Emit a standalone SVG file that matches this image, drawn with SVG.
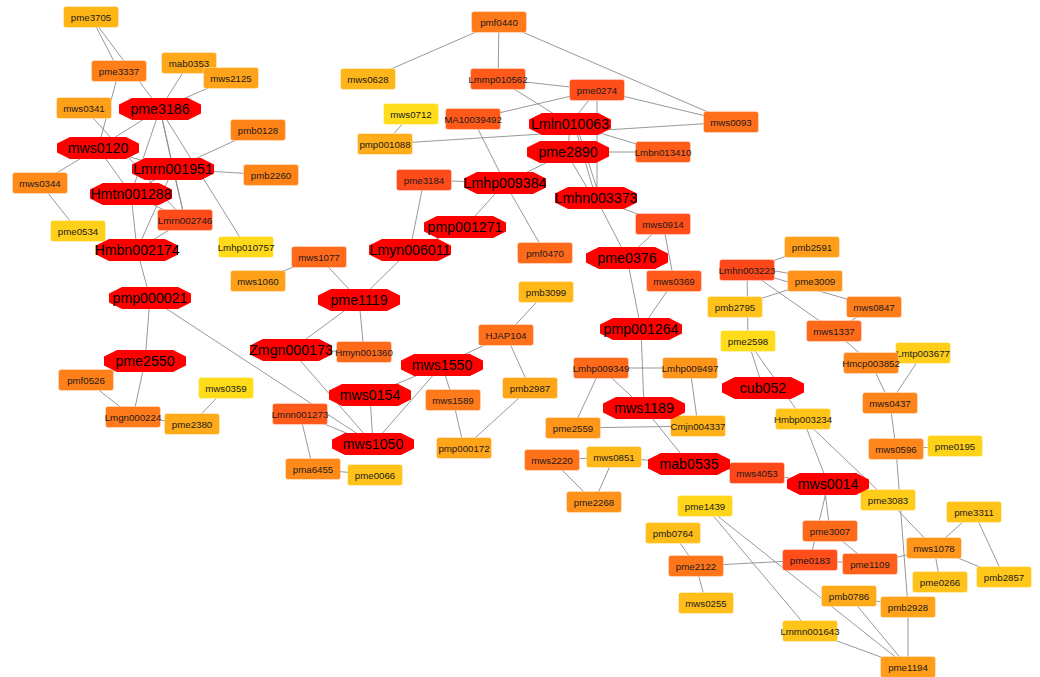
<svg xmlns="http://www.w3.org/2000/svg" xmlns:xlink="http://www.w3.org/1999/xlink" width="1040" height="677" viewBox="0 0 1040 677">
<style>
.e line{stroke:#8c8c8c;stroke-width:0.9}
.o{fill:#ff0000}
.r{stroke:#ffffff;stroke-opacity:0.35;stroke-width:1}
.ot{font-family:"Liberation Sans",Arial,sans-serif;font-size:14.2px;fill:#000;text-anchor:middle;dominant-baseline:central}
.rt{font-family:"Liberation Sans",Arial,sans-serif;font-size:9.7px;fill:#1a1a1a;text-anchor:middle;dominant-baseline:central}
</style>
<defs>
<polygon id="oct" points="-28,-11 28,-11 41,-4.5 41,4.5 28,11 -28,11 -41,4.5 -41,-4.5"/>
<rect id="box" x="-27.5" y="-10.5" width="55" height="21" rx="2.5"/>
</defs>
<rect width="1040" height="677" fill="#ffffff"/>
<g id="edges" class="e">
<line x1="91" y1="17" x2="119" y2="71"/>
<line x1="91" y1="17" x2="160" y2="109"/>
<line x1="119" y1="71" x2="98" y2="148"/>
<line x1="189" y1="63" x2="160" y2="109"/>
<line x1="231" y1="78" x2="160" y2="109"/>
<line x1="160" y1="109" x2="98" y2="148"/>
<line x1="84" y1="108" x2="185" y2="220"/>
<line x1="98" y1="148" x2="131" y2="194"/>
<line x1="98" y1="148" x2="173" y2="169"/>
<line x1="98" y1="148" x2="40" y2="183"/>
<line x1="40" y1="183" x2="78" y2="231"/>
<line x1="160" y1="109" x2="131" y2="194"/>
<line x1="160" y1="109" x2="173" y2="169"/>
<line x1="160" y1="109" x2="185" y2="220"/>
<line x1="160" y1="109" x2="246" y2="247"/>
<line x1="173" y1="169" x2="258" y2="130"/>
<line x1="173" y1="169" x2="271" y2="175"/>
<line x1="173" y1="169" x2="131" y2="194"/>
<line x1="173" y1="169" x2="137" y2="250"/>
<line x1="173" y1="169" x2="185" y2="220"/>
<line x1="131" y1="194" x2="185" y2="220"/>
<line x1="131" y1="194" x2="137" y2="250"/>
<line x1="185" y1="220" x2="137" y2="250"/>
<line x1="137" y1="250" x2="150" y2="298"/>
<line x1="150" y1="298" x2="145" y2="361"/>
<line x1="150" y1="298" x2="373" y2="444"/>
<line x1="145" y1="361" x2="86" y2="380"/>
<line x1="145" y1="361" x2="133" y2="417"/>
<line x1="86" y1="380" x2="133" y2="417"/>
<line x1="133" y1="417" x2="192" y2="424"/>
<line x1="192" y1="424" x2="226" y2="388"/>
<line x1="319" y1="257" x2="258" y2="281"/>
<line x1="319" y1="257" x2="359" y2="300"/>
<line x1="359" y1="300" x2="410" y2="250"/>
<line x1="359" y1="300" x2="291" y2="350"/>
<line x1="359" y1="300" x2="364" y2="352"/>
<line x1="291" y1="350" x2="364" y2="352"/>
<line x1="291" y1="350" x2="373" y2="444"/>
<line x1="410" y1="250" x2="424" y2="180"/>
<line x1="410" y1="250" x2="465" y2="227"/>
<line x1="465" y1="227" x2="505" y2="183"/>
<line x1="424" y1="180" x2="505" y2="183"/>
<line x1="505" y1="183" x2="473" y2="119"/>
<line x1="505" y1="183" x2="568" y2="152"/>
<line x1="505" y1="183" x2="545" y2="253"/>
<line x1="442" y1="365" x2="506" y2="335"/>
<line x1="442" y1="365" x2="370" y2="395"/>
<line x1="442" y1="365" x2="373" y2="444"/>
<line x1="442" y1="365" x2="453" y2="400"/>
<line x1="370" y1="395" x2="373" y2="444"/>
<line x1="300" y1="414" x2="373" y2="444"/>
<line x1="300" y1="414" x2="313" y2="469"/>
<line x1="313" y1="469" x2="375" y2="475"/>
<line x1="453" y1="400" x2="464" y2="448"/>
<line x1="464" y1="448" x2="530" y2="388"/>
<line x1="506" y1="335" x2="546" y2="292"/>
<line x1="506" y1="335" x2="530" y2="388"/>
<line x1="499" y1="22" x2="368" y2="79"/>
<line x1="499" y1="22" x2="498" y2="79"/>
<line x1="499" y1="22" x2="731" y2="122"/>
<line x1="498" y1="79" x2="597" y2="90"/>
<line x1="498" y1="79" x2="570" y2="124"/>
<line x1="411" y1="114" x2="385" y2="144"/>
<line x1="473" y1="119" x2="597" y2="90"/>
<line x1="385" y1="144" x2="731" y2="122"/>
<line x1="597" y1="90" x2="570" y2="124"/>
<line x1="597" y1="90" x2="597" y2="198"/>
<line x1="597" y1="90" x2="731" y2="122"/>
<line x1="570" y1="124" x2="663" y2="152"/>
<line x1="570" y1="124" x2="568" y2="152"/>
<line x1="574" y1="124" x2="596" y2="198"/>
<line x1="568" y1="152" x2="663" y2="152"/>
<line x1="566" y1="152" x2="593" y2="198"/>
<line x1="578" y1="130" x2="600" y2="198"/>
<line x1="596" y1="198" x2="663" y2="224"/>
<line x1="596" y1="198" x2="627" y2="258"/>
<line x1="663" y1="224" x2="627" y2="258"/>
<line x1="663" y1="224" x2="674" y2="281"/>
<line x1="627" y1="258" x2="641" y2="329"/>
<line x1="674" y1="281" x2="641" y2="329"/>
<line x1="641" y1="329" x2="644" y2="408"/>
<line x1="601" y1="368" x2="690" y2="368"/>
<line x1="601" y1="368" x2="573" y2="428"/>
<line x1="601" y1="368" x2="644" y2="408"/>
<line x1="690" y1="368" x2="698" y2="426"/>
<line x1="573" y1="428" x2="698" y2="426"/>
<line x1="644" y1="408" x2="689" y2="464"/>
<line x1="552" y1="460" x2="614" y2="457"/>
<line x1="552" y1="460" x2="594" y2="502"/>
<line x1="614" y1="457" x2="594" y2="502"/>
<line x1="614" y1="457" x2="689" y2="464"/>
<line x1="689" y1="464" x2="757" y2="473"/>
<line x1="757" y1="473" x2="828" y2="484"/>
<line x1="747" y1="270" x2="812" y2="247"/>
<line x1="747" y1="266" x2="815" y2="278"/>
<line x1="747" y1="270" x2="874" y2="307"/>
<line x1="747" y1="270" x2="748" y2="341"/>
<line x1="735" y1="307" x2="815" y2="281"/>
<line x1="747" y1="270" x2="834" y2="331"/>
<line x1="834" y1="331" x2="874" y2="307"/>
<line x1="834" y1="331" x2="871" y2="363"/>
<line x1="871" y1="363" x2="890" y2="403"/>
<line x1="923" y1="353" x2="890" y2="403"/>
<line x1="890" y1="403" x2="896" y2="449"/>
<line x1="896" y1="449" x2="955" y2="446"/>
<line x1="896" y1="449" x2="908" y2="607"/>
<line x1="748" y1="341" x2="763" y2="388"/>
<line x1="748" y1="341" x2="803" y2="419"/>
<line x1="803" y1="419" x2="828" y2="484"/>
<line x1="803" y1="419" x2="888" y2="500"/>
<line x1="824" y1="484" x2="830" y2="531"/>
<line x1="828" y1="484" x2="810" y2="560"/>
<line x1="830" y1="531" x2="870" y2="564"/>
<line x1="810" y1="560" x2="870" y2="564"/>
<line x1="810" y1="560" x2="696" y2="566"/>
<line x1="870" y1="564" x2="934" y2="548"/>
<line x1="888" y1="500" x2="934" y2="548"/>
<line x1="934" y1="548" x2="974" y2="512"/>
<line x1="934" y1="548" x2="1004" y2="577"/>
<line x1="934" y1="548" x2="940" y2="582"/>
<line x1="974" y1="512" x2="1004" y2="577"/>
<line x1="849" y1="596" x2="908" y2="607"/>
<line x1="849" y1="596" x2="908" y2="667"/>
<line x1="908" y1="607" x2="908" y2="667"/>
<line x1="705" y1="506" x2="908" y2="667"/>
<line x1="705" y1="506" x2="810" y2="631"/>
<line x1="810" y1="631" x2="908" y2="667"/>
<line x1="673" y1="533" x2="696" y2="566"/>
<line x1="696" y1="566" x2="706" y2="603"/>
</g>
<g id="n_pme3705"><use href="#box" x="91" y="17" class="r" fill="#ffb615"/><text class="rt" x="91" y="17">pme3705</text></g>
<g id="n_pme3337"><use href="#box" x="119" y="71" class="r" fill="#ff8018"/><text class="rt" x="119" y="71">pme3337</text></g>
<g id="n_mab0353"><use href="#box" x="189" y="63" class="r" fill="#ffa81a"/><text class="rt" x="189" y="63">mab0353</text></g>
<g id="n_mws2125"><use href="#box" x="231" y="78" class="r" fill="#ffa41a"/><text class="rt" x="231" y="78">mws2125</text></g>
<g id="n_mws0341"><use href="#box" x="84" y="108" class="r" fill="#ffa01a"/><text class="rt" x="84" y="108">mws0341</text></g>
<g id="n_pmb0128"><use href="#box" x="258" y="130" class="r" fill="#ff8418"/><text class="rt" x="258" y="130">pmb0128</text></g>
<g id="n_pmb2260"><use href="#box" x="271" y="175" class="r" fill="#ff8418"/><text class="rt" x="271" y="175">pmb2260</text></g>
<g id="n_mws0344"><use href="#box" x="40" y="183" class="r" fill="#ff8a1a"/><text class="rt" x="40" y="183">mws0344</text></g>
<g id="n_Lmrn002746"><use href="#box" x="185" y="220" class="r" fill="#ff4a1a"/><text class="rt" x="185" y="220">Lmrn002746</text></g>
<g id="n_pme0534"><use href="#box" x="78" y="231" class="r" fill="#ffd01a"/><text class="rt" x="78" y="231">pme0534</text></g>
<g id="n_Lmhp010757"><use href="#box" x="246" y="247" class="r" fill="#ffd91a"/><text class="rt" x="246" y="247">Lmhp010757</text></g>
<g id="n_mws1077"><use href="#box" x="319" y="257" class="r" fill="#ff6a1a"/><text class="rt" x="319" y="257">mws1077</text></g>
<g id="n_mws1060"><use href="#box" x="258" y="281" class="r" fill="#ffa01a"/><text class="rt" x="258" y="281">mws1060</text></g>
<g id="n_pmf0526"><use href="#box" x="86" y="380" class="r" fill="#ff8018"/><text class="rt" x="86" y="380">pmf0526</text></g>
<g id="n_mws0359"><use href="#box" x="226" y="388" class="r" fill="#ffdc1a"/><text class="rt" x="226" y="388">mws0359</text></g>
<g id="n_Lmgn000224"><use href="#box" x="133" y="417" class="r" fill="#ff7a1a"/><text class="rt" x="133" y="417">Lmgn000224</text></g>
<g id="n_pme2380"><use href="#box" x="192" y="424" class="r" fill="#ffaa1a"/><text class="rt" x="192" y="424">pme2380</text></g>
<g id="n_Lmnn001273"><use href="#box" x="300" y="414" class="r" fill="#ff5a1a"/><text class="rt" x="300" y="414">Lmnn001273</text></g>
<g id="n_pmf0440"><use href="#box" x="499" y="22" class="r" fill="#ff7a1a"/><text class="rt" x="499" y="22">pmf0440</text></g>
<g id="n_mws0628"><use href="#box" x="368" y="79" class="r" fill="#ffb61a"/><text class="rt" x="368" y="79">mws0628</text></g>
<g id="n_Lmmp010562"><use href="#box" x="498" y="79" class="r" fill="#ff5a1a"/><text class="rt" x="498" y="79">Lmmp010562</text></g>
<g id="n_pme0274"><use href="#box" x="597" y="90" class="r" fill="#ff4e1a"/><text class="rt" x="597" y="90">pme0274</text></g>
<g id="n_mws0712"><use href="#box" x="411" y="114" class="r" fill="#ffdd1a"/><text class="rt" x="411" y="114">mws0712</text></g>
<g id="n_MA10039492"><use href="#box" x="473" y="119" class="r" fill="#ff5a1a"/><text class="rt" x="473" y="119">MA10039492</text></g>
<g id="n_pmp001088"><use href="#box" x="385" y="144" class="r" fill="#ffad1a"/><text class="rt" x="385" y="144">pmp001088</text></g>
<g id="n_Lmbn013410"><use href="#box" x="663" y="152" class="r" fill="#ff5e1a"/><text class="rt" x="663" y="152">Lmbn013410</text></g>
<g id="n_mws0093"><use href="#box" x="731" y="122" class="r" fill="#ff6e1a"/><text class="rt" x="731" y="122">mws0093</text></g>
<g id="n_pme3184"><use href="#box" x="424" y="180" class="r" fill="#ff4a1a"/><text class="rt" x="424" y="180">pme3184</text></g>
<g id="n_mws0914"><use href="#box" x="663" y="224" class="r" fill="#ff4e1a"/><text class="rt" x="663" y="224">mws0914</text></g>
<g id="n_pmf0470"><use href="#box" x="545" y="253" class="r" fill="#ff6a1a"/><text class="rt" x="545" y="253">pmf0470</text></g>
<g id="n_mws0369"><use href="#box" x="674" y="281" class="r" fill="#ff5a1a"/><text class="rt" x="674" y="281">mws0369</text></g>
<g id="n_pmb3099"><use href="#box" x="546" y="292" class="r" fill="#ffb81a"/><text class="rt" x="546" y="292">pmb3099</text></g>
<g id="n_Hmyn001360"><use href="#box" x="364" y="352" class="r" fill="#ff6a1a"/><text class="rt" x="364" y="352">Hmyn001360</text></g>
<g id="n_HJAP104"><use href="#box" x="506" y="335" class="r" fill="#ff701a"/><text class="rt" x="506" y="335">HJAP104</text></g>
<g id="n_Lmhp009349"><use href="#box" x="601" y="368" class="r" fill="#ff6a1a"/><text class="rt" x="601" y="368">Lmhp009349</text></g>
<g id="n_Lmhp009497"><use href="#box" x="690" y="368" class="r" fill="#ff961a"/><text class="rt" x="690" y="368">Lmhp009497</text></g>
<g id="n_mws1589"><use href="#box" x="453" y="400" class="r" fill="#ff7a1a"/><text class="rt" x="453" y="400">mws1589</text></g>
<g id="n_pmb2987"><use href="#box" x="530" y="388" class="r" fill="#ffa51a"/><text class="rt" x="530" y="388">pmb2987</text></g>
<g id="n_pmp000172"><use href="#box" x="464" y="448" class="r" fill="#ffa51a"/><text class="rt" x="464" y="448">pmp000172</text></g>
<g id="n_pma6455"><use href="#box" x="313" y="469" class="r" fill="#ff8a1a"/><text class="rt" x="313" y="469">pma6455</text></g>
<g id="n_pme0066"><use href="#box" x="375" y="475" class="r" fill="#ffc21a"/><text class="rt" x="375" y="475">pme0066</text></g>
<g id="n_pme2559"><use href="#box" x="573" y="428" class="r" fill="#ff961a"/><text class="rt" x="573" y="428">pme2559</text></g>
<g id="n_Cmjn004337"><use href="#box" x="698" y="426" class="r" fill="#ffb11a"/><text class="rt" x="698" y="426">Cmjn004337</text></g>
<g id="n_mws2220"><use href="#box" x="552" y="460" class="r" fill="#ff721a"/><text class="rt" x="552" y="460">mws2220</text></g>
<g id="n_mws0851"><use href="#box" x="614" y="457" class="r" fill="#ffb81a"/><text class="rt" x="614" y="457">mws0851</text></g>
<g id="n_mws4053"><use href="#box" x="757" y="473" class="r" fill="#ff481a"/><text class="rt" x="757" y="473">mws4053</text></g>
<g id="n_pme2268"><use href="#box" x="594" y="502" class="r" fill="#ff921a"/><text class="rt" x="594" y="502">pme2268</text></g>
<g id="n_pme1439"><use href="#box" x="705" y="506" class="r" fill="#ffd51a"/><text class="rt" x="705" y="506">pme1439</text></g>
<g id="n_pmb0764"><use href="#box" x="673" y="533" class="r" fill="#ffbe1a"/><text class="rt" x="673" y="533">pmb0764</text></g>
<g id="n_pme2122"><use href="#box" x="696" y="566" class="r" fill="#ff761a"/><text class="rt" x="696" y="566">pme2122</text></g>
<g id="n_mws0255"><use href="#box" x="706" y="603" class="r" fill="#ffbe1a"/><text class="rt" x="706" y="603">mws0255</text></g>
<g id="n_pme3083"><use href="#box" x="888" y="500" class="r" fill="#ffcc1a"/><text class="rt" x="888" y="500">pme3083</text></g>
<g id="n_pme3311"><use href="#box" x="974" y="512" class="r" fill="#ffc41a"/><text class="rt" x="974" y="512">pme3311</text></g>
<g id="n_pme3007"><use href="#box" x="830" y="531" class="r" fill="#ff6a1a"/><text class="rt" x="830" y="531">pme3007</text></g>
<g id="n_mws1078"><use href="#box" x="934" y="548" class="r" fill="#ff961a"/><text class="rt" x="934" y="548">mws1078</text></g>
<g id="n_pme0183"><use href="#box" x="810" y="560" class="r" fill="#ff4e1a"/><text class="rt" x="810" y="560">pme0183</text></g>
<g id="n_pme1109"><use href="#box" x="870" y="564" class="r" fill="#ff601a"/><text class="rt" x="870" y="564">pme1109</text></g>
<g id="n_pmb2857"><use href="#box" x="1004" y="577" class="r" fill="#ffc81a"/><text class="rt" x="1004" y="577">pmb2857</text></g>
<g id="n_pme0266"><use href="#box" x="940" y="582" class="r" fill="#ffc21a"/><text class="rt" x="940" y="582">pme0266</text></g>
<g id="n_pmb0786"><use href="#box" x="849" y="596" class="r" fill="#ffaa1a"/><text class="rt" x="849" y="596">pmb0786</text></g>
<g id="n_pmb2928"><use href="#box" x="908" y="607" class="r" fill="#ffa31a"/><text class="rt" x="908" y="607">pmb2928</text></g>
<g id="n_Lmmn001643"><use href="#box" x="810" y="631" class="r" fill="#ffc41a"/><text class="rt" x="810" y="631">Lmmn001643</text></g>
<g id="n_pme1194"><use href="#box" x="908" y="667" class="r" fill="#ff9e1a"/><text class="rt" x="908" y="667">pme1194</text></g>
<g id="n_pmb2591"><use href="#box" x="812" y="247" class="r" fill="#ff9e1a"/><text class="rt" x="812" y="247">pmb2591</text></g>
<g id="n_Lmhn003223"><use href="#box" x="747" y="270" class="r" fill="#ff481a"/><text class="rt" x="747" y="270">Lmhn003223</text></g>
<g id="n_pme3009"><use href="#box" x="815" y="281" class="r" fill="#ff921a"/><text class="rt" x="815" y="281">pme3009</text></g>
<g id="n_pmb2795"><use href="#box" x="735" y="307" class="r" fill="#ffc21a"/><text class="rt" x="735" y="307">pmb2795</text></g>
<g id="n_mws0847"><use href="#box" x="874" y="307" class="r" fill="#ff7e1a"/><text class="rt" x="874" y="307">mws0847</text></g>
<g id="n_mws1337"><use href="#box" x="834" y="331" class="r" fill="#ff6a1a"/><text class="rt" x="834" y="331">mws1337</text></g>
<g id="n_pme2598"><use href="#box" x="748" y="341" class="r" fill="#ffdc1a"/><text class="rt" x="748" y="341">pme2598</text></g>
<g id="n_Lmtp003677"><use href="#box" x="923" y="353" class="r" fill="#ffce1a"/><text class="rt" x="923" y="353">Lmtp003677</text></g>
<g id="n_Hmcp003852"><use href="#box" x="871" y="363" class="r" fill="#ff861a"/><text class="rt" x="871" y="363">Hmcp003852</text></g>
<g id="n_mws0437"><use href="#box" x="890" y="403" class="r" fill="#ff841a"/><text class="rt" x="890" y="403">mws0437</text></g>
<g id="n_Hmbp003234"><use href="#box" x="803" y="419" class="r" fill="#ffc41a"/><text class="rt" x="803" y="419">Hmbp003234</text></g>
<g id="n_mws0596"><use href="#box" x="896" y="449" class="r" fill="#ff861a"/><text class="rt" x="896" y="449">mws0596</text></g>
<g id="n_pme0195"><use href="#box" x="955" y="446" class="r" fill="#ffd21a"/><text class="rt" x="955" y="446">pme0195</text></g>
<g id="n_pme3186"><use href="#oct" x="160" y="109" class="o"/><text class="ot" x="160" y="109">pme3186</text></g>
<g id="n_mws0120"><use href="#oct" x="98" y="148" class="o"/><text class="ot" x="98" y="148">mws0120</text></g>
<g id="n_Lmrn001951"><use href="#oct" x="173" y="169" class="o"/><text class="ot" x="173" y="169">Lmrn001951</text></g>
<g id="n_Hmtn001288"><use href="#oct" x="131" y="194" class="o"/><text class="ot" x="131" y="194">Hmtn001288</text></g>
<g id="n_Hmbn002174"><use href="#oct" x="137" y="250" class="o"/><text class="ot" x="137" y="250">Hmbn002174</text></g>
<g id="n_pmp000021"><use href="#oct" x="150" y="298" class="o"/><text class="ot" x="150" y="298">pmp000021</text></g>
<g id="n_pme2550"><use href="#oct" x="145" y="361" class="o"/><text class="ot" x="145" y="361">pme2550</text></g>
<g id="n_Zmgn000173"><use href="#oct" x="291" y="350" class="o"/><text class="ot" x="291" y="350">Zmgn000173</text></g>
<g id="n_Lmln010063"><use href="#oct" x="570" y="124" class="o"/><text class="ot" x="570" y="124">Lmln010063</text></g>
<g id="n_pme2890"><use href="#oct" x="568" y="152" class="o"/><text class="ot" x="568" y="152">pme2890</text></g>
<g id="n_Lmhp009384"><use href="#oct" x="505" y="183" class="o"/><text class="ot" x="505" y="183">Lmhp009384</text></g>
<g id="n_Lmhn003373"><use href="#oct" x="596" y="198" class="o"/><text class="ot" x="596" y="198">Lmhn003373</text></g>
<g id="n_pmp001271"><use href="#oct" x="465" y="227" class="o"/><text class="ot" x="465" y="227">pmp001271</text></g>
<g id="n_Lmyn006011"><use href="#oct" x="410" y="250" class="o"/><text class="ot" x="410" y="250">Lmyn006011</text></g>
<g id="n_pme0376"><use href="#oct" x="627" y="258" class="o"/><text class="ot" x="627" y="258">pme0376</text></g>
<g id="n_pme1119"><use href="#oct" x="359" y="300" class="o"/><text class="ot" x="359" y="300">pme1119</text></g>
<g id="n_pmp001264"><use href="#oct" x="641" y="329" class="o"/><text class="ot" x="641" y="329">pmp001264</text></g>
<g id="n_mws1550"><use href="#oct" x="442" y="365" class="o"/><text class="ot" x="442" y="365">mws1550</text></g>
<g id="n_mws0154"><use href="#oct" x="370" y="395" class="o"/><text class="ot" x="370" y="395">mws0154</text></g>
<g id="n_mws1050"><use href="#oct" x="373" y="444" class="o"/><text class="ot" x="373" y="444">mws1050</text></g>
<g id="n_mws1189"><use href="#oct" x="644" y="408" class="o"/><text class="ot" x="644" y="408">mws1189</text></g>
<g id="n_mab0535"><use href="#oct" x="689" y="464" class="o"/><text class="ot" x="689" y="464">mab0535</text></g>
<g id="n_cub052"><use href="#oct" x="763" y="388" class="o"/><text class="ot" x="763" y="388">cub052</text></g>
<g id="n_mws0014"><use href="#oct" x="828" y="484" class="o"/><text class="ot" x="828" y="484">mws0014</text></g>
</svg>
